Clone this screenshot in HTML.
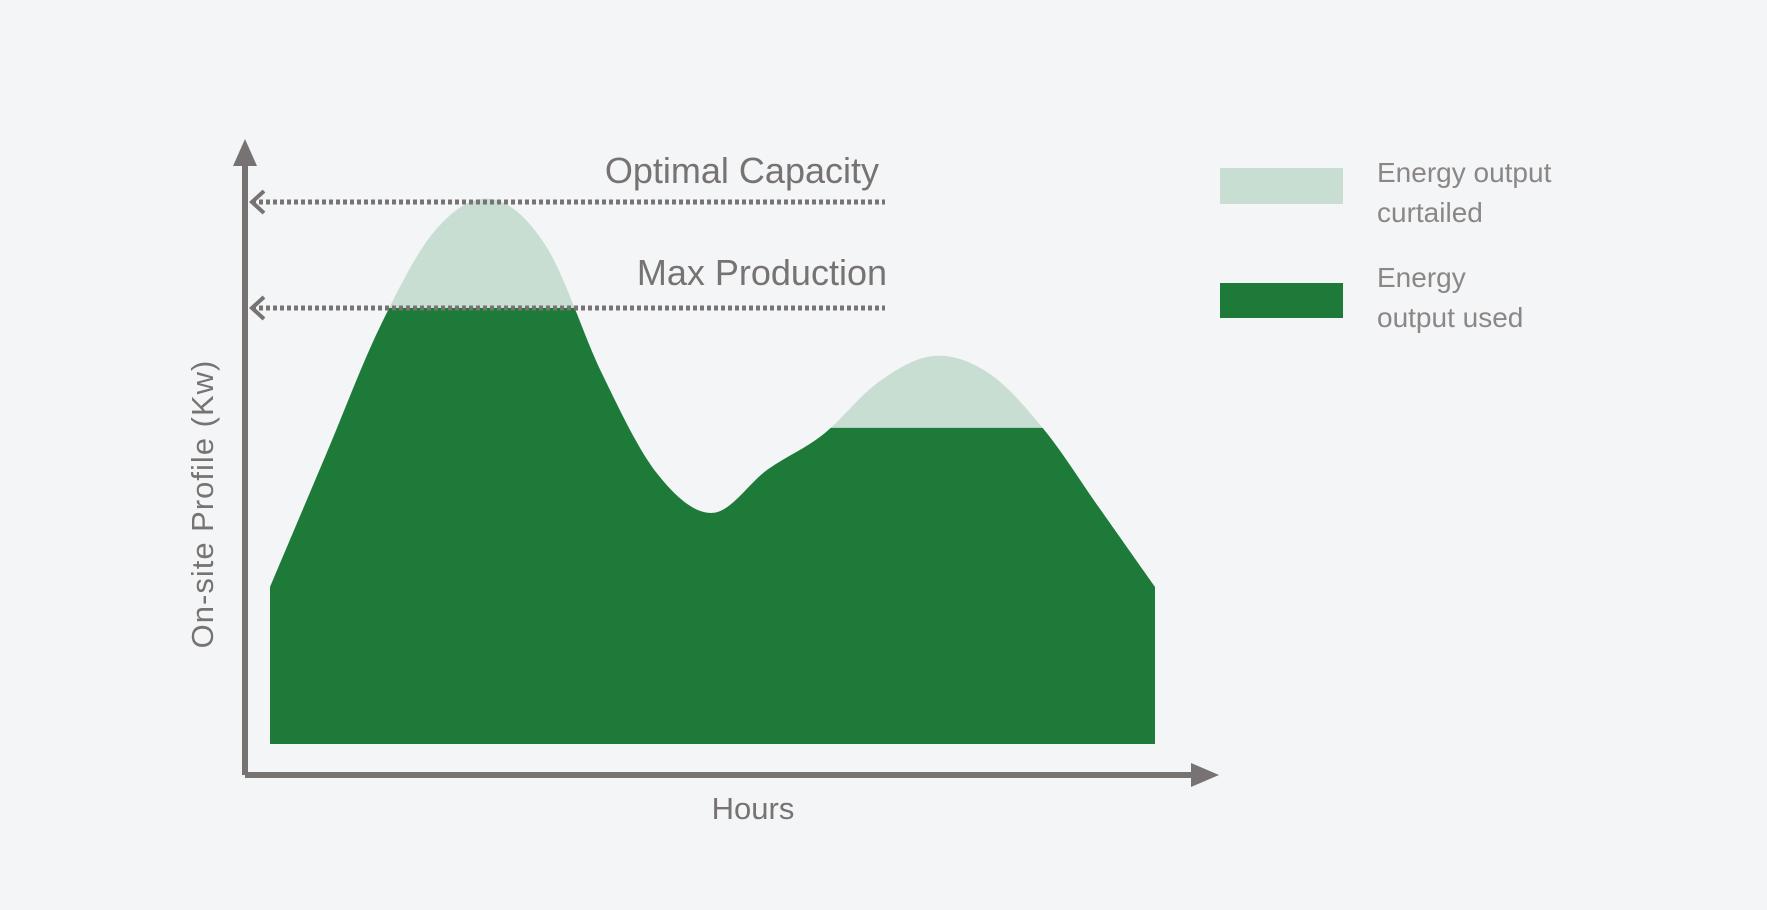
<!DOCTYPE html>
<html><head><meta charset="utf-8"><style>
html,body{margin:0;padding:0;background:#f4f5f7;}
svg{display:block;font-family:"Liberation Sans",sans-serif;}
</style></head><body>
<svg width="1767" height="910" viewBox="0 0 1767 910" id="chart">
<rect width="1767" height="910" fill="#f4f5f7"/>
<defs>
<clipPath id="usedClip"><rect id="clip1"/><rect id="clip2"/></clipPath>
</defs>
<path id="curtailed" fill="#c8ded3"/>
<path id="used" fill="#1e7a39" clip-path="url(#usedClip)"/>
<g stroke="#767372" fill="none">
<line x1="245" y1="775" x2="245" y2="160" stroke-width="6"/>
<line x1="245" y1="775" x2="1195" y2="775" stroke-width="6"/>
<line id="optLine" x1="252" x2="885" stroke-width="5" stroke-dasharray="4 3"/>
<line id="maxLine" x1="252" x2="885" stroke-width="5" stroke-dasharray="4 3"/>
<polyline id="optArrow" stroke-width="4"/>
<polyline id="maxArrow" stroke-width="4"/>
</g>
<polygon points="233,166 245,139 257,166" fill="#767372"/>
<polygon points="1191,763 1219,775 1191,787" fill="#767372"/>
<text id="optText" x="879" text-anchor="end" font-size="36" fill="#767372">Optimal Capacity</text>
<text id="maxText" x="887" text-anchor="end" font-size="36" fill="#767372">Max Production</text>
<text x="753" y="819" text-anchor="middle" font-size="31" fill="#767372">Hours</text>
<text transform="translate(213,504) rotate(-90)" text-anchor="middle" font-size="31" fill="#767372" letter-spacing="1">On-site Profile (Kw)</text>
<rect x="1220" y="168" width="123" height="36" fill="#c8ded3"/>
<rect x="1220" y="283" width="123" height="35" fill="#1e7a39"/>
<g font-size="28" fill="#8a8786">
<text x="1377" y="182">Energy output</text>
<text x="1377" y="222">curtailed</text>
<text x="1377" y="287">Energy</text>
<text x="1377" y="327">output used</text>
</g>
</svg>
<script>
const hours = [0,1.5,3,4.5,6,7.5,9,10.5,12,13.5,15,16.5,18,19.5,21,22.5,24];
const profile = [36,66,96,118,125,114,85,62,53,63,71,83,89,85,72,54,36];
const optimalCapacity = 124.3;
const maxProduction = 100;
const secondPeakCap = 72.5;
const splitHour = 12;

const x0=270, x1=1155, yBase=744, pxPerUnit=4.36;
function xs(h){return x0 + h/24*(x1-x0);}
function ys(v){return yBase - v*pxPerUnit;}

const pts = hours.map((h,i)=>[xs(h), ys(profile[i])]);
let d = `M${pts[0][0]},${yBase} L${pts[0][0]},${pts[0][1]}`;
for(let i=0;i<pts.length-1;i++){
  const p0=pts[Math.max(0,i-1)], p1=pts[i], p2=pts[i+1], p3=pts[Math.min(pts.length-1,i+2)];
  const c1=[p1[0]+(p2[0]-p0[0])/6, p1[1]+(p2[1]-p0[1])/6];
  const c2=[p2[0]-(p3[0]-p1[0])/6, p2[1]-(p3[1]-p1[1])/6];
  d += ` C${c1[0]},${c1[1]} ${c2[0]},${c2[1]} ${p2[0]},${p2[1]}`;
}
d += ` L${pts[pts.length-1][0]},${yBase} Z`;
document.getElementById('curtailed').setAttribute('d', d);
document.getElementById('used').setAttribute('d', d);

const c1=document.getElementById('clip1');
c1.setAttribute('x', 0); c1.setAttribute('y', ys(maxProduction));
c1.setAttribute('width', xs(splitHour)); c1.setAttribute('height', yBase - ys(maxProduction) + 2);
const c2=document.getElementById('clip2');
c2.setAttribute('x', xs(splitHour)); c2.setAttribute('y', ys(secondPeakCap));
c2.setAttribute('width', 1767 - xs(splitHour)); c2.setAttribute('height', yBase - ys(secondPeakCap) + 2);

const yo=ys(optimalCapacity), ym=ys(maxProduction);
const ol=document.getElementById('optLine'); ol.setAttribute('y1',yo); ol.setAttribute('y2',yo);
const ml=document.getElementById('maxLine'); ml.setAttribute('y1',ym); ml.setAttribute('y2',ym);
document.getElementById('optArrow').setAttribute('points', `${264},${yo-11} ${252},${yo} ${264},${yo+11}`);
document.getElementById('maxArrow').setAttribute('points', `${264},${ym-11} ${252},${ym} ${264},${ym+11}`);
document.getElementById('optText').setAttribute('y', yo-19);
document.getElementById('maxText').setAttribute('y', ym-23);
</script>
</body></html>
